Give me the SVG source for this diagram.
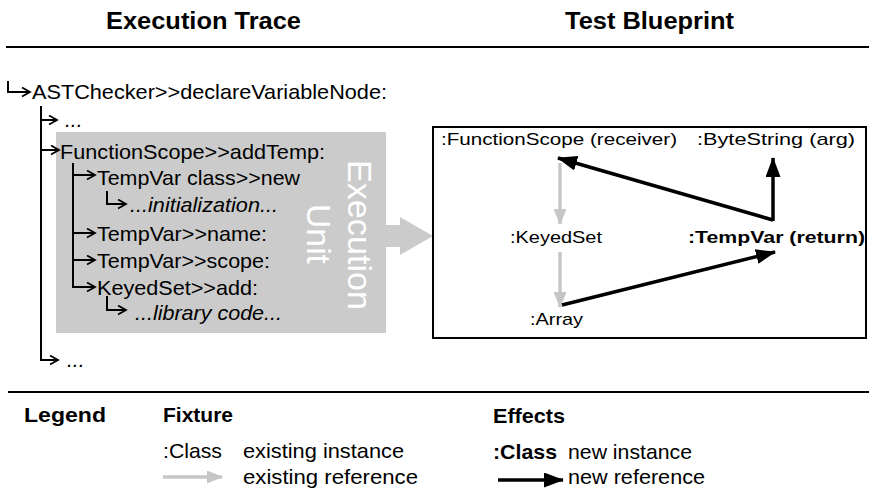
<svg xmlns="http://www.w3.org/2000/svg" width="869" height="491" viewBox="0 0 869 491">
<defs>
<style>
.hdr{font-family:"Liberation Sans",Arial,sans-serif;font-weight:bold;font-size:23px;fill:#000}
.tr{font-family:"Liberation Sans",Arial,sans-serif;font-size:21px;fill:#000}
.it{font-style:italic}
.unit{font-family:"Liberation Sans",Arial,sans-serif;font-size:33px;fill:#fff}
.bp{font-family:"Liberation Sans",Arial,sans-serif;font-size:17px;fill:#000}
.b{font-weight:bold}
.lg{font-family:"Liberation Sans",Arial,sans-serif;font-size:21px;fill:#000}
.rule{stroke:#000;stroke-width:2;fill:none}
.tree{fill:none;stroke:#000;stroke-width:2}
.gref{fill:none;stroke:#c6c6c6;stroke-width:3.5}
.nref{fill:none;stroke:#000;stroke-width:3.5}
</style>
<marker id="open" markerUnits="userSpaceOnUse" markerWidth="12" markerHeight="12" refX="9" refY="5" orient="auto"><path d="M1,0.5 L9,5 L1,9.5" fill="none" stroke="#000" stroke-width="1.8"/></marker>
<marker id="blk" markerUnits="userSpaceOnUse" markerWidth="22" markerHeight="16" refX="19" refY="7.5" orient="auto"><path d="M0,0 L20,7.5 L0,15 z" fill="#000"/></marker>
<marker id="gry" markerUnits="userSpaceOnUse" markerWidth="18" markerHeight="14" refX="15" refY="6.5" orient="auto"><path d="M0,0 L16,6.5 L0,13 z" fill="#c6c6c6"/></marker>
</defs>
<rect x="0" y="0" width="869" height="491" fill="#fff"/>

<g id="header">
<text class="hdr" x="106" y="29" textLength="195" lengthAdjust="spacingAndGlyphs">Execution Trace</text>
<text class="hdr" x="565" y="29" textLength="169" lengthAdjust="spacingAndGlyphs">Test Blueprint</text>
<line class="rule" x1="6" y1="47" x2="869" y2="47"/>
</g>

<g id="execution-unit">
<rect x="56" y="132" width="330" height="201" fill="#cbcbcb"/>
<polygon points="386,225 400,225 400,217 433,236 400,255 400,247 386,247" fill="#cbcbcb"/>
<text class="unit" transform="translate(348,235) rotate(90)" text-anchor="middle" textLength="150" lengthAdjust="spacingAndGlyphs">Execution</text>
<text class="unit" transform="translate(307,234) rotate(90)" text-anchor="middle" textLength="60" lengthAdjust="spacingAndGlyphs">Unit</text>
</g>

<g id="trace-astchecker"><text class="tr" x="32" y="99" textLength="355" lengthAdjust="spacingAndGlyphs">ASTChecker&gt;&gt;declareVariableNode:</text></g>
<g id="trace-dots1"><text class="tr it" x="65" y="127">...</text></g>
<g id="trace-addtemp"><text class="tr" x="60" y="159" textLength="265" lengthAdjust="spacingAndGlyphs">FunctionScope&gt;&gt;addTemp:</text></g>
<g id="trace-new"><text class="tr" x="97" y="185" textLength="203" lengthAdjust="spacingAndGlyphs">TempVar class&gt;&gt;new</text></g>
<g id="trace-init"><text class="tr it" x="130" y="212" textLength="148" lengthAdjust="spacingAndGlyphs">...initialization...</text></g>
<g id="trace-name"><text class="tr" x="97" y="241" textLength="170" lengthAdjust="spacingAndGlyphs">TempVar&gt;&gt;name:</text></g>
<g id="trace-scope"><text class="tr" x="97" y="268" textLength="173" lengthAdjust="spacingAndGlyphs">TempVar&gt;&gt;scope:</text></g>
<g id="trace-add"><text class="tr" x="97" y="295" textLength="161" lengthAdjust="spacingAndGlyphs">KeyedSet&gt;&gt;add:</text></g>
<g id="trace-library"><text class="tr it" x="135" y="320" textLength="147" lengthAdjust="spacingAndGlyphs">...library code...</text></g>
<g id="trace-dots2"><text class="tr it" x="67" y="367">...</text></g>

<g id="blueprint">
<rect x="433" y="127" width="433" height="211" fill="#fff" stroke="#000" stroke-width="2"/>
</g>
<g id="bp-functionscope"><text class="bp" x="441" y="145" textLength="236" lengthAdjust="spacingAndGlyphs">:FunctionScope (receiver)</text></g>
<g id="bp-bytestring"><text class="bp" x="697" y="145" textLength="158" lengthAdjust="spacingAndGlyphs">:ByteString (arg)</text></g>
<g id="bp-keyedset"><text class="bp" x="510" y="243" textLength="92" lengthAdjust="spacingAndGlyphs">:KeyedSet</text></g>
<g id="bp-tempvar"><text class="bp b" x="688" y="243" textLength="177" lengthAdjust="spacingAndGlyphs">:TempVar (return)</text></g>
<g id="bp-array"><text class="bp" x="530" y="325" textLength="53" lengthAdjust="spacingAndGlyphs">:Array</text></g>

<g id="connectors">
<path class="tree" d="M8,81 V92 H30" marker-end="url(#open)"/>
<path class="tree" d="M41,106 V360 H58" marker-end="url(#open)"/>
<path class="tree" d="M41,120 H57" marker-end="url(#open)"/>
<path class="tree" d="M41,150 H59" marker-end="url(#open)"/>
<path class="tree" d="M73,163 V287 H95" marker-end="url(#open)"/>
<path class="tree" d="M73,175 H95" marker-end="url(#open)"/>
<path class="tree" d="M73,233 H95" marker-end="url(#open)"/>
<path class="tree" d="M73,260 H95" marker-end="url(#open)"/>
<path class="tree" d="M107,191 V204 H126" marker-end="url(#open)"/>
<path class="tree" d="M107,296 V310 H126" marker-end="url(#open)"/>
<path class="gref" d="M560,163 V224" marker-end="url(#gry)"/>
<path class="gref" d="M560,252 V307" marker-end="url(#gry)"/>
<path class="nref" d="M773,220 L558,158" marker-end="url(#blk)"/>
<path class="nref" d="M773,221 V158" marker-end="url(#blk)"/>
<path class="nref" d="M562,305 L775,252" marker-end="url(#blk)"/>
</g>

<g id="legend">
<line class="rule" x1="8" y1="392" x2="869" y2="392"/>
<text class="lg b" x="24" y="422" textLength="82" lengthAdjust="spacingAndGlyphs">Legend</text>
<text class="lg b" x="163" y="422" textLength="70" lengthAdjust="spacingAndGlyphs">Fixture</text>
<text class="lg" x="163" y="458" textLength="59" lengthAdjust="spacingAndGlyphs">:Class</text>
<text class="lg" x="243" y="458" textLength="161" lengthAdjust="spacingAndGlyphs">existing instance</text>
<path class="gref" d="M163,477 H222" marker-end="url(#gry)"/>
<text class="lg" x="243" y="484" textLength="175" lengthAdjust="spacingAndGlyphs">existing reference</text>
<text class="lg b" x="493" y="423" textLength="72" lengthAdjust="spacingAndGlyphs">Effects</text>
<text class="lg b" x="493" y="459" textLength="64" lengthAdjust="spacingAndGlyphs">:Class</text>
<text class="lg" x="568" y="459" textLength="124" lengthAdjust="spacingAndGlyphs">new instance</text>
<path class="nref" d="M498,480 H563" marker-end="url(#blk)"/>
<text class="lg" x="568" y="484" textLength="137" lengthAdjust="spacingAndGlyphs">new reference</text>
</g>
</svg>
